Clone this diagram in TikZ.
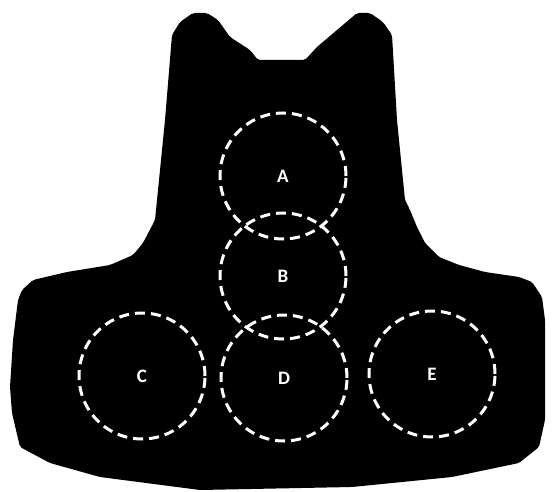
\documentclass[tikz,border=0pt]{standalone}
\usepackage{fontspec}
\setmainfont{Carlito}
\begin{document}
\begin{tikzpicture}[x=1pt,y=-1pt,
  zone/.style={circle,draw=white,line width=3pt,dash pattern=on 10pt off 6pt,minimum size=126pt,inner sep=0pt,text=white,font=\fontsize{19}{22}\selectfont\bfseries}]
\useasboundingbox (0,0) rectangle (552,492);
\fill[black,rounded corners=2pt] (172,35) -- (180,22) -- (193,13) -- (207,13) -- (218,20) -- (230,37) -- (250,50) -- (258,60) -- (305,60) -- (317,47) -- (337,30) -- (357,13) -- (370,13) -- (383,22) -- (392,35) -- (397,120) -- (405,200) -- (410,210) -- (417,227) -- (425,243) -- (439,257) -- (459,265) -- (485,272) -- (519,277) -- (532,282) -- (542,297) -- (545,320) -- (545,420) -- (539,447) -- (519,463) -- (452,477) -- (352,487) -- (200,490) -- (100,477) -- (50,463) -- (20,447) -- (12,413) -- (10,387) -- (13,340) -- (18,300) -- (22,290) -- (33,280) -- (67,272) -- (110,265) -- (133,255) -- (143,243) -- (155,220) -- (157,200) -- (165,120) -- cycle;
\node[zone] (A) at (283,176) {A};
\node[zone] (B) at (283,276) {B};
\node[zone] (D) at (284,378) {D};
\node[zone] (C) at (142,376) {C};
\node[zone] (E) at (432,374) {E};
\end{tikzpicture}
\end{document}
